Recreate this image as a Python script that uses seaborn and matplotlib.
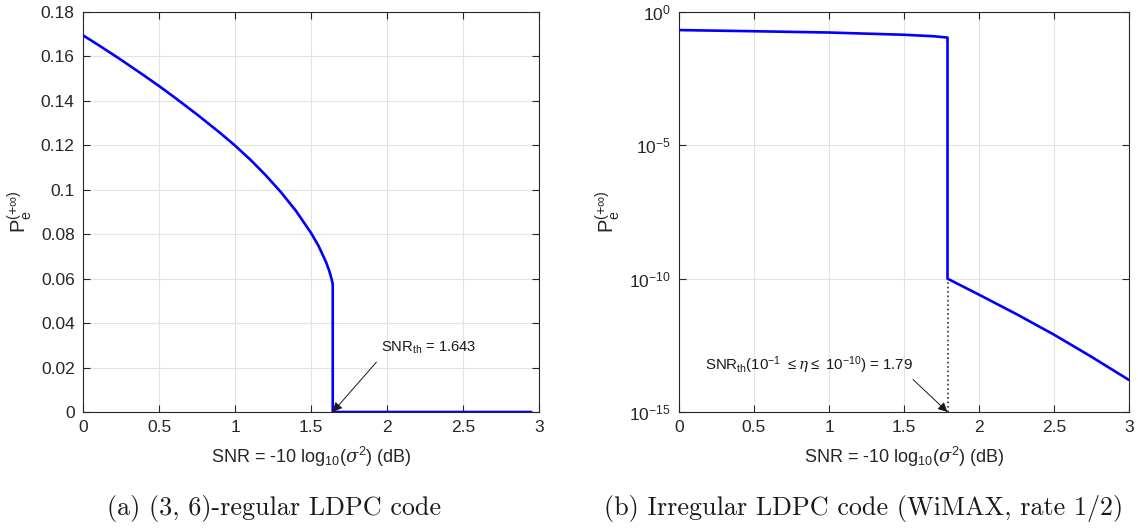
import numpy as np
import pandas as pd
import matplotlib
matplotlib.use("Agg")
import matplotlib.pyplot as plt
from matplotlib.ticker import FuncFormatter, FixedLocator, LogFormatterSciNotation, NullLocator
import seaborn as sns

# ---- data ----
snr_a = [0.0, 0.1, 0.25, 0.4, 0.5, 0.6, 0.75, 0.9, 1.0, 1.1, 1.2, 1.3, 1.4, 1.5, 1.55, 1.6, 1.62,
         1.635, 1.643, 1.643, 2.0, 2.5, 2.95]
pe_a = [0.1695, 0.1652, 0.1585, 0.1515, 0.1467, 0.1417, 0.1339, 0.1257, 0.1199, 0.1136, 0.1067, 0.0991,
        0.0906, 0.0806, 0.0747, 0.0673, 0.0635, 0.0600, 0.0575, 0.0, 0.0, 0.0, 0.0]

snr_b = [0.0, 0.5, 1.0, 1.5, 1.7, 1.79, 1.79, 2.0, 2.25, 2.5, 2.75, 3.0]
pe_b = [0.21, 0.19, 0.17, 0.14, 0.123, 0.11, 1e-10, 10**-10.6, 10**-11.33, 10**-12.1, 10**-12.93, 10**-13.8]

xticks = [0, 0.5, 1, 1.5, 2, 2.5, 3]
yticks_a = [0, 0.02, 0.04, 0.06, 0.08, 0.1, 0.12, 0.14, 0.16, 0.18]
yticks_b = [1e-15, 1e-10, 1e-5, 1e0]
snr_th_a = 1.643
snr_th_b = 1.79

xlabel = r"SNR = -10 log$_{10}$($\sigma^2$) (dB)"
ylabel = r"P$_{\rm e}^{(+\infty)}$"
cap_a = "(a) (3, 6)-regular LDPC code"
cap_b = "(b) Irregular LDPC code (WiMAX, rate 1/2)"
ann_a = r"SNR$_{\rm th}$ = 1.643"
ann_b = r"SNR$_{\rm th}$(10$^{-1}$ $\leq \eta \leq$ 10$^{-10}$) = 1.79"

sns.set_theme(style="ticks")
plt.rcParams.update({
    "font.family": ["Liberation Sans", "DejaVu Sans"],
    "mathtext.fontset": "custom",
    "mathtext.rm": "Liberation Sans",
    "mathtext.it": "DejaVu Serif:italic",
    "mathtext.bf": "Liberation Sans:bold",
    "axes.unicode_minus": False,
    "axes.edgecolor": "#262626",
    "axes.linewidth": 0.8,
    "xtick.color": "#262626",
    "ytick.color": "#262626",
    "xtick.labelcolor": "#262626",
    "ytick.labelcolor": "#262626",
    "xtick.direction": "in",
    "ytick.direction": "in",
    "xtick.major.size": 5,
    "ytick.major.size": 5,
    "xtick.major.width": 0.8,
    "ytick.major.width": 0.8,
    "xtick.top": True,
    "ytick.right": True,
    "axes.labelcolor": "#262626",
    "text.color": "#262626",
})

W, H = 1138, 532
fig = plt.figure(figsize=(W / 100, H / 100), dpi=100)
top, bot = 12, 412
axA = fig.add_axes([83 / W, 1 - bot / H, (539 - 83) / W, (bot - top) / H])
axB = fig.add_axes([679 / W, 1 - bot / H, (1129 - 679) / W, (bot - top) / H])

dfa = pd.DataFrame({"snr": snr_a, "pe": pe_a})
dfb = pd.DataFrame({"snr": snr_b, "pe": pe_b})

sns.lineplot(data=dfa, x="snr", y="pe", sort=False, estimator=None, color=(0, 0, 1), lw=1.9, ax=axA, zorder=3)
sns.lineplot(data=dfb, x="snr", y="pe", sort=False, estimator=None, color=(0, 0, 1), lw=1.9, ax=axB, zorder=3)

fmt = FuncFormatter(lambda v, p: "%g" % v)
for ax in (axA, axB):
    ax.set_xlim(0, 3)
    ax.xaxis.set_major_locator(FixedLocator(xticks))
    ax.xaxis.set_major_formatter(fmt)
    ax.grid(True, color="#e3e3e3", lw=0.8, zorder=0)
    ax.set_axisbelow(True)
    ax.tick_params(labelsize=12.5, pad=6)
    ax.set_xlabel(xlabel, fontsize=13, labelpad=7)
    ax.set_ylabel(ylabel, fontsize=14.5, labelpad=5)
    for s in ax.spines.values():
        s.set_visible(True)

axA.set_ylim(0, 0.18)
axA.yaxis.set_major_locator(FixedLocator(yticks_a))
axA.yaxis.set_major_formatter(fmt)

axB.set_yscale("log")
axB.set_ylim(1e-15, 1e0)
axB.yaxis.set_major_locator(FixedLocator(yticks_b))
axB.yaxis.set_minor_locator(NullLocator())
axB.yaxis.set_major_formatter(LogFormatterSciNotation())

# annotations
axA.text(1.96, 0.0291, ann_a, fontsize=10.6, va="center", ha="left", color="k")
axA.annotate("", xy=(snr_th_a, 0), xytext=(1.93, 0.0224),
             arrowprops=dict(arrowstyle="-|>", color="k", lw=0.7, mutation_scale=14, shrinkA=0, shrinkB=0))

axB.plot([snr_th_b, snr_th_b], [1e-15, 1e-10], ls=":", color="#333333", lw=1.2, zorder=2)
axB.text(0.87, 10**-13.25, ann_b, fontsize=10.8, va="center", ha="center", color="k")
axB.annotate("", xy=(snr_th_b, 1e-15), xytext=(1.56, 10**-13.78),
             arrowprops=dict(arrowstyle="-|>", color="k", lw=0.7, mutation_scale=14, shrinkA=0, shrinkB=0))

# captions
fig.text(274 / W, 1 - 508 / H, cap_a, family="cmr10", fontsize=18.8, ha="center", va="center", color="k")
fig.text(864 / W, 1 - 508 / H, cap_b, family="cmr10", fontsize=18.8, ha="center", va="center", color="k")

fig.savefig("out.png", dpi=100)
